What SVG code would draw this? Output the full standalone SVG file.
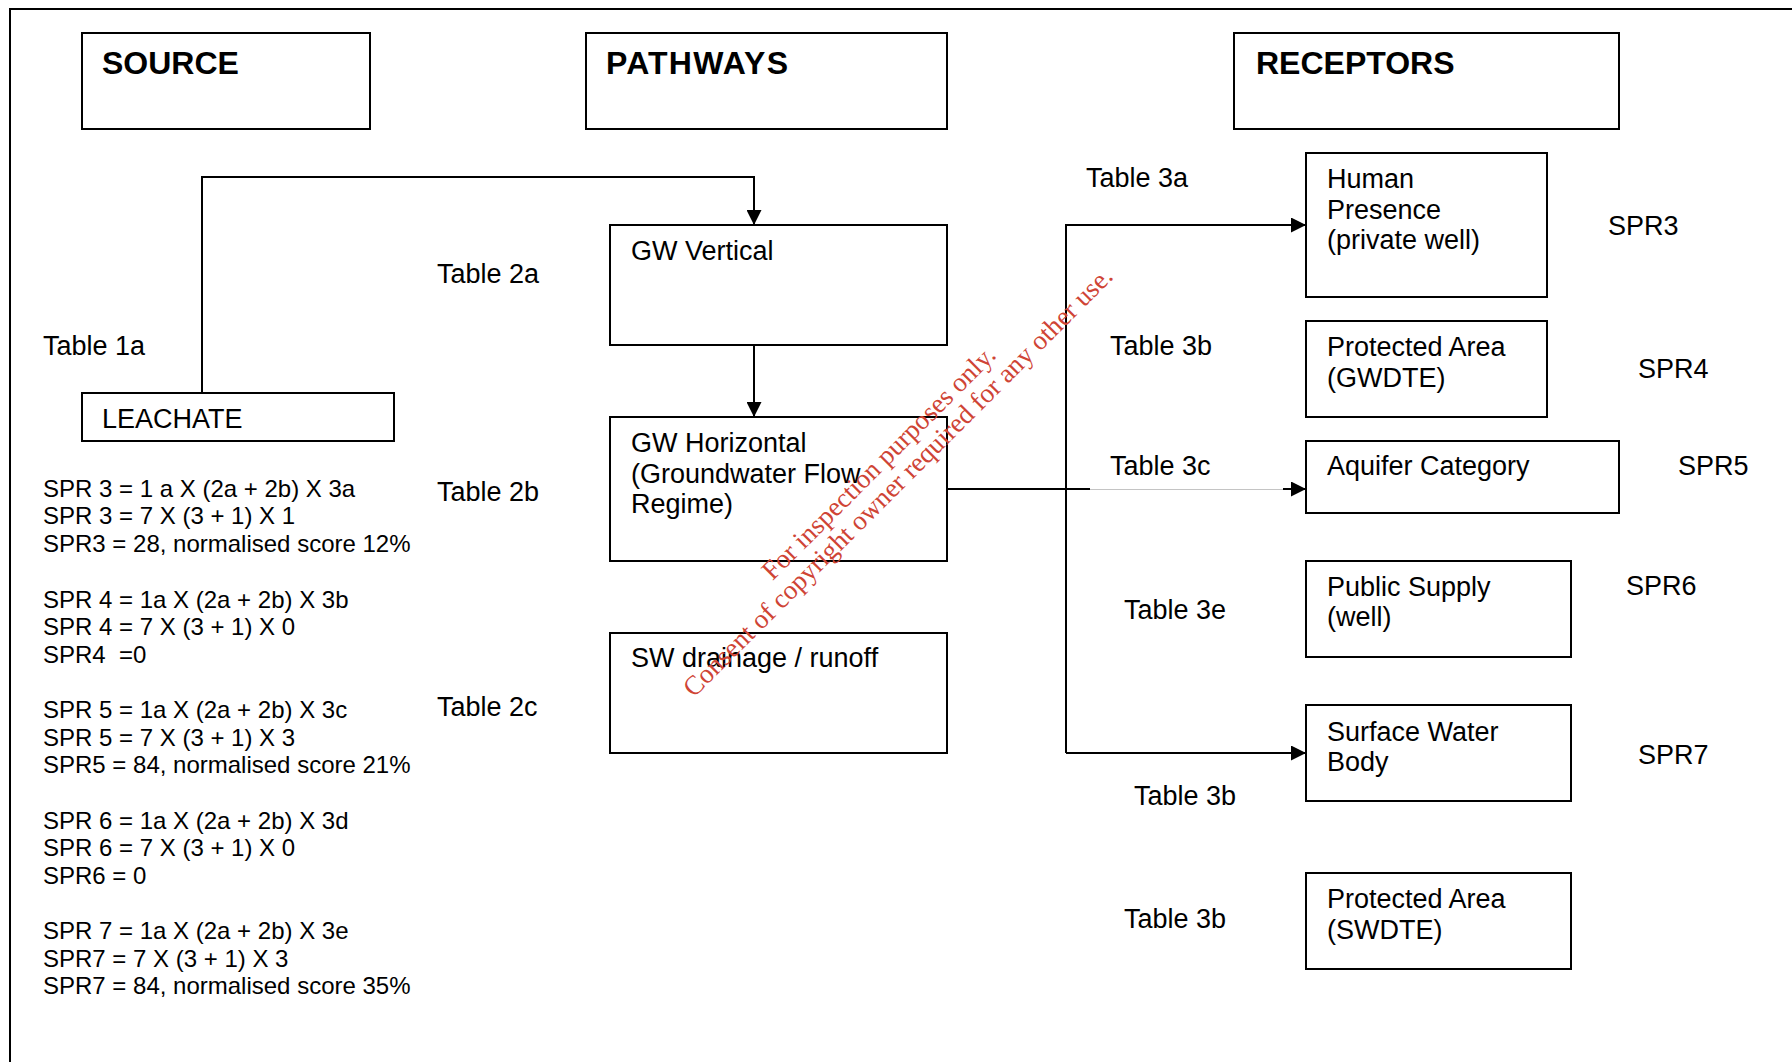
<svg xmlns="http://www.w3.org/2000/svg" width="1792" height="1062" viewBox="0 0 1792 1062">
  <style>
    .box { fill: #ffffff; stroke: #000000; stroke-width: 2; }
    .hdr { font-family: "Liberation Sans", Arial, sans-serif; font-size: 32px; font-weight: bold; fill: #000000; }
    .lbl { font-family: "Liberation Sans", Arial, sans-serif; font-size: 27px; fill: #000000; }
    .eq { font-family: "Liberation Sans", Arial, sans-serif; font-size: 24px; fill: #000000; }
    .wire { fill: none; stroke: #000000; stroke-width: 2; }
    .faint { fill: none; stroke: #c4c4c4; stroke-width: 1; }
    .mark { font-family: "Liberation Serif", "Times New Roman", serif; font-size: 27px; fill: #cf4435; text-anchor: middle; }
  </style>
  <defs>
    <marker id="arrow" markerUnits="userSpaceOnUse" markerWidth="15" markerHeight="15" refX="15" refY="7.5" orient="auto">
      <path d="M0,0 L15,7.5 L0,15 Z" fill="#000000"/>
    </marker>
  </defs>

  <rect width="1792" height="1062" fill="#ffffff"/>

  <!-- page frame (left and top rules) -->
  <path class="wire" d="M10,1062 V9 H1792"/>

  <!-- column headers -->
  <g id="source">
    <rect class="box" x="82" y="33" width="288" height="96"/>
    <text class="hdr" x="102" y="74">SOURCE</text>
  </g>
  <g id="pathways">
    <rect class="box" x="586" y="33" width="361" height="96"/>
    <text class="hdr" x="606" y="74" textLength="182" lengthAdjust="spacing">PATHWAYS</text>
  </g>
  <g id="receptors">
    <rect class="box" x="1234" y="33" width="385" height="96"/>
    <text class="hdr" x="1256" y="74">RECEPTORS</text>
  </g>

  <!-- source -->
  <g id="leachate">
    <rect class="box" x="82" y="393" width="312" height="48"/>
    <text class="lbl" x="102" y="428">LEACHATE</text>
  </g>

  <!-- pathways -->
  <g id="gw-vertical">
    <rect class="box" x="610" y="225" width="337" height="120"/>
    <text class="lbl" x="631" y="260">GW Vertical</text>
  </g>
  <g id="gw-horizontal">
    <rect class="box" x="610" y="417" width="337" height="144"/>
    <text class="lbl" x="631" y="452">GW Horizontal<tspan x="631" y="482.5">(Groundwater Flow</tspan><tspan x="631" y="513">Regime)</tspan></text>
  </g>
  <g id="sw-drainage">
    <rect class="box" x="610" y="633" width="337" height="120"/>
    <text class="lbl" x="631" y="667">SW drainage / runoff</text>
  </g>

  <!-- receptors -->
  <g id="human-presence">
    <rect class="box" x="1306" y="153" width="241" height="144"/>
    <text class="lbl" x="1327" y="188">Human<tspan x="1327" y="218.5">Presence</tspan><tspan x="1327" y="249">(private well)</tspan></text>
  </g>
  <g id="protected-gwdte">
    <rect class="box" x="1306" y="321" width="241" height="96"/>
    <text class="lbl" x="1327" y="356">Protected Area<tspan x="1327" y="387">(GWDTE)</tspan></text>
  </g>
  <g id="aquifer">
    <rect class="box" x="1306" y="441" width="313" height="72"/>
    <text class="lbl" x="1327" y="475">Aquifer Category</text>
  </g>
  <g id="public-supply">
    <rect class="box" x="1306" y="561" width="265" height="96"/>
    <text class="lbl" x="1327" y="595.5">Public Supply<tspan x="1327" y="625.5">(well)</tspan></text>
  </g>
  <g id="surface-water">
    <rect class="box" x="1306" y="705" width="265" height="96"/>
    <text class="lbl" x="1327" y="740.5">Surface Water<tspan x="1327" y="770.5">Body</tspan></text>
  </g>
  <g id="protected-swdte">
    <rect class="box" x="1306" y="873" width="265" height="96"/>
    <text class="lbl" x="1327" y="908">Protected Area<tspan x="1327" y="938.5">(SWDTE)</tspan></text>
  </g>

  <!-- connectors -->
  <g id="connectors">
    <path class="wire" d="M202,393 V177 H754 V225" marker-end="url(#arrow)"/>
    <path class="wire" d="M754,345 V417" marker-end="url(#arrow)"/>
    <path class="wire" d="M1066,753 V225 H1306" marker-end="url(#arrow)"/>
    <path class="wire" d="M1066,753 H1306" marker-end="url(#arrow)"/>
    <path class="wire" d="M947,489 H1090"/>
    <path class="faint" d="M1090,489.5 H1284"/>
    <path class="wire" d="M1283,489 H1306" marker-end="url(#arrow)"/>
  </g>

  <!-- table references -->
  <g id="table-labels">
    <text class="lbl" x="43" y="355">Table 1a</text>
    <text class="lbl" x="437" y="283">Table 2a</text>
    <text class="lbl" x="437" y="500.5">Table 2b</text>
    <text class="lbl" x="437" y="716">Table 2c</text>
    <text class="lbl" x="1086" y="187">Table 3a</text>
    <text class="lbl" x="1110" y="355">Table 3b</text>
    <text class="lbl" x="1110" y="475">Table 3c</text>
    <text class="lbl" x="1124" y="619">Table 3e</text>
    <text class="lbl" x="1134" y="805">Table 3b</text>
    <text class="lbl" x="1124" y="928">Table 3b</text>
  </g>

  <!-- SPR identifiers -->
  <g id="spr-labels">
    <text class="lbl" x="1608" y="235">SPR3</text>
    <text class="lbl" x="1638" y="378">SPR4</text>
    <text class="lbl" x="1678" y="475">SPR5</text>
    <text class="lbl" x="1626" y="594.5">SPR6</text>
    <text class="lbl" x="1638" y="763.5">SPR7</text>
  </g>

  <!-- score calculations -->
  <g id="calculations">
    <text class="eq" x="43" y="496.5">SPR 3 = 1 a X (2a + 2b) X 3a</text>
    <text class="eq" x="43" y="524">SPR 3 = 7 X (3 + 1) X 1</text>
    <text class="eq" x="43" y="551.5">SPR3 = 28, normalised score 12%</text>
    <text class="eq" x="43" y="607.5">SPR 4 = 1a X (2a + 2b) X 3b</text>
    <text class="eq" x="43" y="635">SPR 4 = 7 X (3 + 1) X 0</text>
    <text class="eq" x="43" y="663" xml:space="preserve">SPR4  =0</text>
    <text class="eq" x="43" y="718">SPR 5 = 1a X (2a + 2b) X 3c</text>
    <text class="eq" x="43" y="745.5">SPR 5 = 7 X (3 + 1) X 3</text>
    <text class="eq" x="43" y="773">SPR5 = 84, normalised score 21%</text>
    <text class="eq" x="43" y="828.5">SPR 6 = 1a X (2a + 2b) X 3d</text>
    <text class="eq" x="43" y="856">SPR 6 = 7 X (3 + 1) X 0</text>
    <text class="eq" x="43" y="883.5">SPR6 = 0</text>
    <text class="eq" x="43" y="939">SPR 7 = 1a X (2a + 2b) X 3e</text>
    <text class="eq" x="43" y="966.5">SPR7 = 7 X (3 + 1) X 3</text>
    <text class="eq" x="43" y="994">SPR7 = 84, normalised score 35%</text>
  </g>

  <!-- diagonal stamp across the middle -->
  <g id="stamp" transform="translate(904,488) rotate(-45)">
    <text class="mark" x="0" y="-27">For inspection purposes only.</text>
    <text class="mark" x="0" y="0">Consent of copyright owner required for any other use.</text>
  </g>
</svg>
